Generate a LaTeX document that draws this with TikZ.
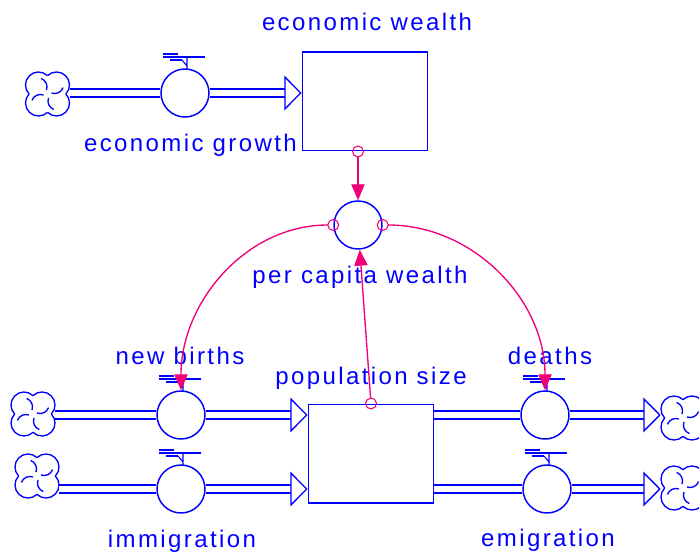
\documentclass[tikz,border=0pt]{standalone}
\usepackage{fontspec}
\setmainfont{Liberation Sans}[LetterSpace=10]
\usetikzlibrary{arrows.meta,positioning}
\definecolor{SimBlue}{RGB}{0,0,255}
\definecolor{SimPink}{RGB}{240,0,120}

\begin{document}
\begin{tikzpicture}[x=0.75pt,y=-0.75pt,
  stock/.style={draw=SimBlue,line width=1pt,minimum width=94pt,
                minimum height=74pt,inner sep=0pt},
  valve/.style={circle,draw=SimBlue,line width=1.1pt,minimum size=36pt,inner sep=0pt},
  cloudspot/.style={circle,minimum size=33pt,inner sep=0pt},
  pipe/.style={draw=SimBlue,double=white,double distance=4.8pt,line width=1pt},
  inflow/.style={pipe,-{Triangle[open,length=13pt,width=26pt,line width=1pt]}},
  link/.style={draw=SimPink,line width=1pt,shorten <=-4.5pt,
               {Circle[open,length=9pt,line width=0.8pt]}-{Triangle[length=12pt,width=10pt]}},
  lbl/.style={text=SimBlue,font=\fontsize{18pt}{20pt}\selectfont,inner sep=0pt},
  cloud/.pic={
    \foreach \a in {0,90,180,270}{
      \draw[SimBlue,line width=1pt,rotate=\a] (9,9) ++(133.8:13) arc[start angle=133.8,end angle=-43.8,radius=13];
      \draw[SimBlue,line width=1pt,rotate=\a] (1,4) arc[start angle=200,end angle=110,radius=9];
    }
  },
  handle/.pic={
    \draw[SimBlue,line width=0.8pt] (-22,-39) -- (-7,-39) (-15,-33) -- (-3,-33);
    \draw[SimBlue,line width=1.8pt] (-22,-36) -- (20,-36);
    \draw[SimBlue,line width=0.8pt] (-3,-33) -- (2,-27) (2,-36) -- (2,-24);
  },
]
\useasboundingbox (0,0) rectangle (699,552);

% stocks
\node[stock] (ew) at (365,101.5) {};
\node[stock] (ps) at (371,453.5) {};

% flows and auxiliary
\node[valve] (eg) at (185,93) {};
\node[valve] (nb) at (181,415) {};
\node[valve] (im) at (181,489) {};
\node[valve] (de) at (545,415) {};
\node[valve] (em) at (547,489) {};
\node[valve] (pcw) at (358,225) {};

% sources and sinks
\node[cloudspot] (c0) at (47.5,94) {};
\node[cloudspot] (c1) at (33,414) {};
\node[cloudspot] (c2) at (37,476) {};
\node[cloudspot] (c3) at (683,418) {};
\node[cloudspot] (c4) at (683,488) {};
\foreach \c in {c0,c1,c2,c3,c4} \pic at (\c) {cloud};
\foreach \v in {eg,nb,im,de,em} \pic at (\v) {handle};

% labels
\node[lbl] (ewl) at (367,22) {economic wealth};
\node[lbl,anchor=east] (egl) at (297,145) {economic growth};
\node[lbl] (pcwl) at (360,277) {per capita wealth};
\node[lbl] (nbl) at (180,356) {new births};
\node[lbl] (psl) at (371,378) {population size};
\node[lbl] (del) at (550,356) {deaths};
\node[lbl] (iml) at (182,541) {immigration};
\node[lbl] (eml) at (548,540) {emigration};

% pipes
\draw[pipe] (c0.east |- eg) -- (eg);
\draw[inflow] (eg) -- (eg -| ew.west);
\draw[pipe] (c1.east |- nb) -- (nb);
\draw[inflow] (nb) -- (nb -| ps.west);
\draw[pipe] (c2.east |- im) -- (im);
\draw[inflow] (im) -- (im -| ps.west);
\draw[pipe] (de -| ps.east) -- (de);
\draw[inflow] (de) -- (de -| c3.west);
\draw[pipe] (em -| ps.east) -- (em);
\draw[inflow] (em) -- (em -| c4.west);

% connectors
\draw[link] (pcw |- ew.south) -- (pcw);
\draw[link] (pcw.west) to[out=180,in=90] (nb.north);
\draw[link] (pcw.east) to[out=0,in=90] (de.north);
\draw[link] (ps.north) -- (pcw);
\end{tikzpicture}
\end{document}
